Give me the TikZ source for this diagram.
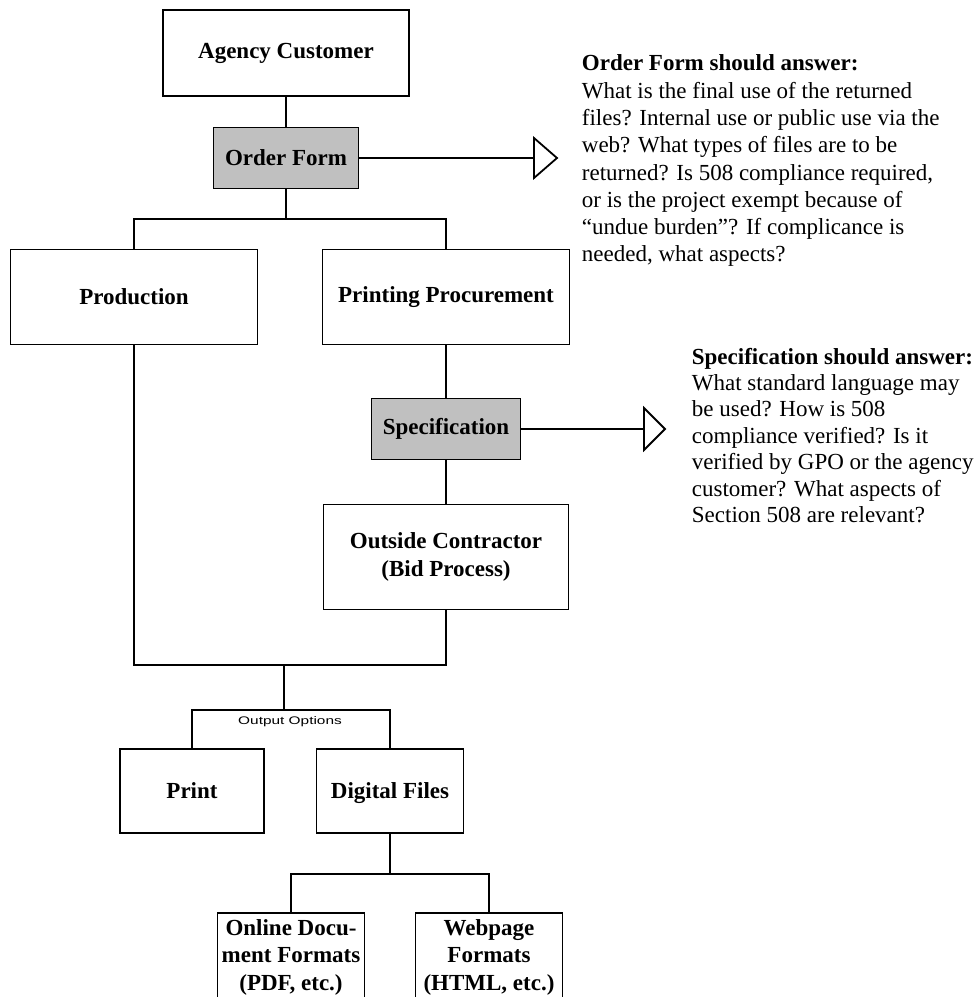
\documentclass[tikz,border=0pt]{standalone}
\usepackage{fontspec}
\setmainfont{Liberation Serif}
\newfontfamily\optfont[FakeStretch=1.4]{Liberation Sans}
\definecolor{formgray}{RGB}{192,192,192}
\begin{document}
\begin{tikzpicture}[x = 1pt, y = -1pt, line width = 1.8pt,
    box/.style    = {draw, fill = white, align = center, inner sep = 0pt,
                     font = \bfseries\fontsize{23}{27.5}\selectfont},
    shaded/.style = {box, fill = formgray},
    note/.style   = {anchor = north west, align = left, inner sep = 0pt},
    hollow/.style = {draw, fill = white, line join = miter}]
        \useasboundingbox (0, 0) rectangle (977, 997);
        \clip (0, 0) rectangle (977, 997);
        \node[box, minimum width = 246, minimum height = 86]    (customer)    at (286, 53)    {Agency Customer};
        \node[shaded, minimum width = 145, minimum height = 61] (orderform)   at (286, 158)   {Order Form};
        \node[box, minimum width = 247, minimum height = 95]    (production)  at (134, 297)   {Production};
        \node[box, minimum width = 247, minimum height = 95]    (procurement) at (446, 297)   {Printing Procurement};
        \node[shaded, minimum width = 149, minimum height = 61] (spec)        at (446, 429)   {Specification};
        \node[box, minimum width = 245, minimum height = 105]   (contractor)  at (446, 557)   {Outside Contractor\\(Bid Process)};
        \node[box, minimum width = 144, minimum height = 84]    (print)       at (192, 791)   {Print};
        \node[box, minimum width = 147, minimum height = 84, text depth = 1] (digital) at (390, 791) {Digital Files};
        \node[box, minimum width = 147, minimum height = 88]    (online)      at (291, 957)   {Online Docu-\\ment Formats\\(PDF, etc.)};
        \node[box, minimum width = 147, minimum height = 88]    (webpage)     at (489, 957)   {Webpage\\Formats\\(HTML, etc.)};
        \coordinate (fork)     at (286, 219);
        \coordinate (join)     at (284, 665);
        \coordinate (split)    at (284, 710);
        \coordinate (formats)  at (390, 874);
        \coordinate (ofmark)   at (534, 158);
        \coordinate (specmark) at (644, 429);
        \draw (customer) -- (orderform);
        \draw (orderform) -- (fork);
        \draw (production.north) |- (fork) -| (procurement.north);
        \draw (procurement) -- (spec);
        \draw (spec) -- (contractor);
        \draw (production.south) |- (join) -| (contractor.south);
        \draw (join) -- (split);
        \draw (print.north) |- (split) -| (digital.north);
        \draw (digital) -- (formats);
        \draw (online.north) |- (formats) -| (webpage.north);
        \draw (orderform) -- (ofmark);
        \draw (spec) -- (specmark);
        \draw[hollow] (ofmark) ++(0, -20) -- ++(23, 20) -- ++(-23, 20) -- cycle;
        \draw[hollow] (specmark) ++(0, -21) -- ++(21, 21) -- ++(-21, 21) -- cycle;
        \node[font = \optfont\fontsize{11}{12}\selectfont] (options) at (290, 722) {Output Options};
        \node[note, font = \fontsize{23}{27.3}\selectfont] (ofnote) at (581, 54)
            {\textbf{Order Form should answer:}\\
             What is the final use of the returned\\
             files? Internal use or public use via the\\
             web? What types of files are to be\\
             returned? Is 508 compliance required,\\
             or is the project exempt because of\\
             “undue burden”? If complicance is\\
             needed, what aspects?};
        \node[note, font = \fontsize{23}{26.4}\selectfont] (specnote) at (691, 347)
            {\textbf{Specification should answer:}\\
             What standard language may\\
             be used? How is 508\\
             compliance verified? Is it\\
             verified by GPO or the agency\\
             customer? What aspects of\\
             Section 508 are relevant?};
      \end{tikzpicture}
\end{document}
